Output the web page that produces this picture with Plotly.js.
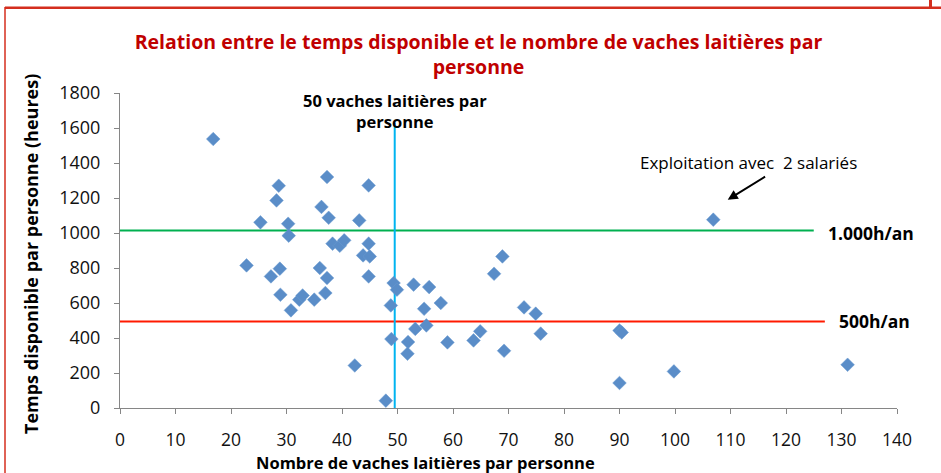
<!DOCTYPE html>
<html>
<head>
<meta charset="utf-8">
<script src="https://cdn.plot.ly/plotly-3.0.1.min.js"></script>
<style>html,body{margin:0;padding:0;background:#fff;}#chart{width:941px;height:473px;}</style>
</head>
<body>
<div id="chart"></div>
<script>
// ---- Data ----
var vachesParPersonne = [16.8, 28.6, 28.2, 25.3, 30.3, 30.4, 37.3, 36.3, 37.6, 44.8, 43.1, 38.3, 39.6, 40.4, 44.8,
  22.8, 28.8, 27.2, 36.0, 37.3, 43.8, 45.0, 44.8, 28.9, 32.3, 32.9, 30.8, 35.0, 37.0, 49.3, 49.9, 48.8, 48.9,
  42.3, 47.9, 52.9, 55.7, 54.8, 57.8, 53.2, 55.2, 51.9, 51.8, 59.0, 63.7, 64.9, 69.2, 67.4, 68.9, 72.8, 74.9,
  75.8, 90.0, 90.4, 90.0, 99.8, 131.1, 106.9];
var heuresParPersonne = [1537, 1270, 1186, 1061, 1053, 985, 1320, 1149, 1087, 1272, 1072, 939, 927, 958, 939,
  815, 796, 752, 800, 743, 872, 866, 752, 647, 619, 643, 558, 619, 657, 714, 676, 586, 394,
  243, 42, 705, 691, 567, 600, 452, 472, 377, 310, 375, 386, 438, 327, 767, 866, 575, 539,
  425, 443, 432, 143, 209, 247, 1076];

var seuil1000X = [0, 125];
var seuil1000Y = [1015, 1015];
var seuil500X = [0, 127];
var seuil500Y = [495, 495];
var ligne50X = [49.5, 49.5];
var ligne50Y = [0, 1630];

var xTickVals = [0, 10, 20, 30, 40, 50, 60, 70, 80, 90, 100, 110, 120, 130, 140];
var yTickVals = [0, 200, 400, 600, 800, 1000, 1200, 1400, 1600, 1800];

var titre = "Relation entre le temps disponible et le nombre de vaches laitières par<br>personne";
var titreX = "Nombre de vaches laitières par personne";
var titreY = "Temps disponible par personne (heures)";
var label50 = "50 vaches laitières par<br>personne";
var labelSalaries = "Exploitation avec \u00a02 salariés";
var label1000 = "1.000h/an";
var label500 = "500h/an";

// ---- Layout helpers (pixel -> paper) ----
var W = 941, H = 473, L = 120, R = 44, T = 93, B = 65;
var PW = W - L - R, PH = H - T - B;
function px(x) { return (x - L) / PW; }
function py(y) { return (H - B - y) / PH; }
var frameColor = "#D42E1E";
var FONT = "'Open Sans', 'Noto Sans', sans-serif";

var traces = [
  { x: seuil1000X, y: seuil1000Y, mode: "lines", line: { color: "#00B050", width: 2 }, hoverinfo: "skip", cliponaxis: false },
  { x: seuil500X, y: seuil500Y, mode: "lines", line: { color: "#FF1A00", width: 2 }, hoverinfo: "skip", cliponaxis: false },
  { x: ligne50X, y: ligne50Y, mode: "lines", line: { color: "#00B4F0", width: 2 }, hoverinfo: "skip", cliponaxis: false },
  { x: vachesParPersonne, y: heuresParPersonne, mode: "markers", type: "scatter", cliponaxis: false,
    marker: { symbol: "diamond", size: 10.5, color: "#5A8DC8", line: { color: "#6A9AD0", width: 0.5 } } }
];

var layout = {
  width: W, height: H,
  margin: { l: L, r: R, t: T, b: B },
  paper_bgcolor: "#fff", plot_bgcolor: "#fff",
  showlegend: false,
  font: { family: FONT, color: "#111" },
  title: { text: titre, font: { family: FONT, size: 19.5, color: "#C00000", weight: "bold" },
           x: px(478.5), xanchor: "center", xref: "paper", y: 1 - 49 / H, yanchor: "middle", yref: "container" },
  xaxis: {
    range: [0, 140], tickvals: xTickVals, ticks: "outside", ticklen: 5, tickcolor: "#868686",
    showline: true, linecolor: "#868686", linewidth: 1, showgrid: false, zeroline: false,
    tickfont: { family: FONT, size: 17.5, color: "#111" }, ticklabelstandoff: 11
  },
  yaxis: {
    range: [0, 1800], tickvals: yTickVals, ticks: "outside", ticklen: 5, tickcolor: "#868686",
    showline: true, linecolor: "#868686", linewidth: 1, showgrid: false, zeroline: false,
    tickfont: { family: FONT, size: 18, color: "#111" }, ticklabelstandoff: 10
  },
  annotations: [
    { x: px(425.5), y: py(462.5), xref: "paper", yref: "paper", text: titreX, showarrow: false,
      font: { family: FONT, size: 16.5, weight: "bold", color: "#000" }, xanchor: "center", yanchor: "middle" },
    { x: px(31), y: py(254), xref: "paper", yref: "paper", text: titreY, showarrow: false, textangle: -90,
      font: { family: FONT, size: 18, weight: "bold", color: "#000" }, xanchor: "center", yanchor: "middle" },
    { x: 49.5, y: 1697, xref: "x", yref: "y", text: label50, showarrow: false,
      font: { family: FONT, size: 16.5, weight: "bold", color: "#000" }, align: "center" },
    { x: 113.2, y: 1401, xref: "x", yref: "y", text: labelSalaries, showarrow: false,
      font: { family: FONT, size: 17, color: "#000" } },
    { x: 109.5, y: 1190, ax: 116.5, ay: 1327, xref: "x", yref: "y", axref: "x", ayref: "y",
      text: "", showarrow: true, arrowhead: 2, arrowsize: 1, arrowwidth: 2, arrowcolor: "#000" },
    { x: 135.3, y: 1002, xref: "x", yref: "y", text: label1000, showarrow: false,
      font: { family: FONT, size: 17.5, weight: "bold", color: "#000" } },
    { x: 135.9, y: 499, xref: "x", yref: "y", text: label500, showarrow: false,
      font: { family: FONT, size: 17.5, weight: "bold", color: "#000" } }
  ],
  shapes: [
    { type: "line", xref: "paper", yref: "paper", x0: px(5), x1: px(941), y0: py(7.7), y1: py(7.7),
      line: { color: frameColor, width: 2.5 } },
    { type: "line", xref: "paper", yref: "paper", x0: px(5), x1: px(5), y0: py(7), y1: py(473),
      line: { color: frameColor, width: 1.5 } },
    { type: "line", xref: "paper", yref: "paper", x0: px(930.5), x1: px(930.5), y0: py(0), y1: py(8),
      line: { color: frameColor, width: 3 } }
  ]
};

Plotly.newPlot("chart", traces, layout, { displayModeBar: false, staticPlot: true });
</script>
</body>
</html>
